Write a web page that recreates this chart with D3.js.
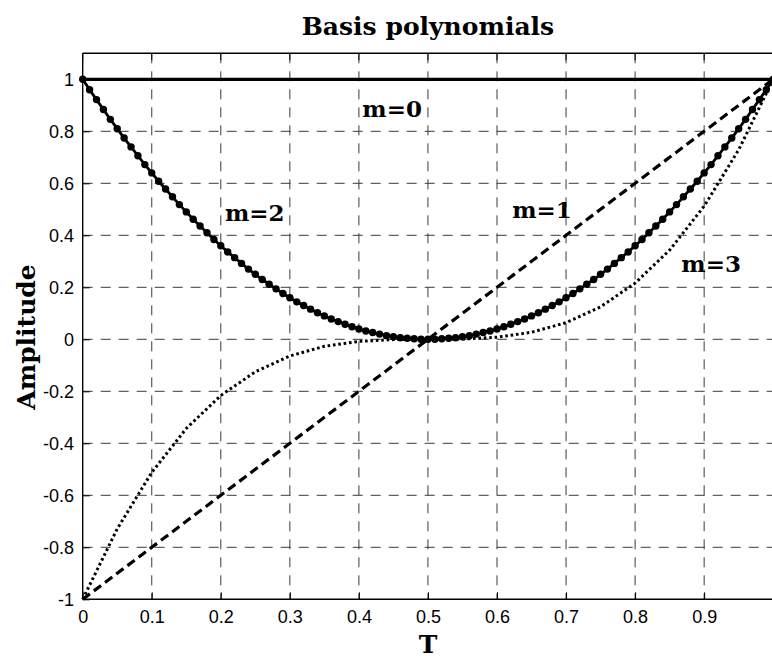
<!DOCTYPE html>
<html>
<head>
<meta charset="utf-8">
<script src="https://d3js.org/d3.v7.min.js"></script>
<style>
    body { margin: 0; background: #fff; }
    .tick-label { font-family: "Liberation Sans", Arial, sans-serif; font-size: 18px; fill: #000; }
    .serif-bold { font-family: "DejaVu Serif", serif; font-weight: bold; fill: #000; }
</style>
</head>
<body>
<div class="chart"></div>
<script>
/* Global Constants
============================================= */
const SVG_WIDTH = 772;
const SVG_HEIGHT = 656;

const textTitle = "Basis polynomials";
const textX = "T";
const textY = "Amplitude";

// tick values
const xTicks = [0, 0.1, 0.2, 0.3, 0.4, 0.5, 0.6, 0.7, 0.8, 0.9];
const yTicks = [-1, -0.8, -0.6, -0.4, -0.2, 0, 0.2, 0.4, 0.6, 0.8, 1];

// m=0 : constant
const tM0 = [0, 1];
const valM0 = [1, 1];

// m=1 and m=3 : coarse samples (step 0.05)
const tCoarse = [0, 0.05, 0.1, 0.15, 0.2, 0.25, 0.3, 0.35, 0.4, 0.45, 0.5,
                 0.55, 0.6, 0.65, 0.7, 0.75, 0.8, 0.85, 0.9, 0.95, 1];
const valM1 = [-1, -0.9, -0.8, -0.7, -0.6, -0.5, -0.4, -0.3, -0.2, -0.1, 0,
               0.1, 0.2, 0.3, 0.4, 0.5, 0.6, 0.7, 0.8, 0.9, 1];
const valM3 = [-1, -0.729, -0.512, -0.343, -0.216, -0.125, -0.064, -0.027, -0.008, -0.001, 0,
               0.001, 0.008, 0.027, 0.064, 0.125, 0.216, 0.343, 0.512, 0.729, 1];

// m=2 : dense samples with markers (step 0.01)
const tFine = d3.range(101).map(i => i / 100);
const valM2 = [1.000, 0.960, 0.922, 0.884, 0.846, 0.810, 0.774, 0.740, 0.706, 0.672,
               0.640, 0.608, 0.578, 0.548, 0.518, 0.490, 0.462, 0.436, 0.410, 0.384,
               0.360, 0.336, 0.314, 0.292, 0.270, 0.250, 0.230, 0.212, 0.194, 0.176,
               0.160, 0.144, 0.130, 0.116, 0.102, 0.090, 0.078, 0.068, 0.058, 0.048,
               0.040, 0.032, 0.026, 0.020, 0.014, 0.010, 0.006, 0.004, 0.002, 0.000,
               0.000,
               0.000, 0.002, 0.004, 0.006, 0.010, 0.014, 0.020, 0.026, 0.032, 0.040,
               0.048, 0.058, 0.068, 0.078, 0.090, 0.102, 0.116, 0.130, 0.144, 0.160,
               0.176, 0.194, 0.212, 0.230, 0.250, 0.270, 0.292, 0.314, 0.336, 0.360,
               0.384, 0.410, 0.436, 0.462, 0.490, 0.518, 0.548, 0.578, 0.608, 0.640,
               0.672, 0.706, 0.740, 0.774, 0.810, 0.846, 0.884, 0.922, 0.960, 1.000];

// curve labels (anchored in data coords)
const curveLabels = ["m=0", "m=1", "m=2", "m=3"];
const labelT = [0.405, 0.622, 0.206, 0.867];
const labelVal = [0.855, 0.465, 0.456, 0.258];

/* Layout
============================================= */
var margin = { top: 53.3, left: 82.7 };
var plotRight = 773.2;
var plotBottom = 599.3;

var svg = d3.select(".chart")
    .append("svg")
    .attr("width", SVG_WIDTH)
    .attr("height", SVG_HEIGHT)
    .style("display", "block");

svg.append("rect")
    .attr("width", SVG_WIDTH)
    .attr("height", SVG_HEIGHT)
    .attr("fill", "#fff");

var xScale = d3.scaleLinear().domain([0, 1]).range([margin.left, plotRight]);
var yScale = d3.scaleLinear().domain([-1, 1.1]).range([plotBottom, margin.top]);

//****************** grid ******************//
var grid = svg.append("g")
    .attr("stroke", "#3a3a3a")
    .attr("stroke-width", 1)
    .attr("stroke-dasharray", "10,8");

grid.selectAll("line.vgrid")
    .data(xTicks.slice(1))
    .enter()
    .append("line")
    .attr("x1", d => xScale(d))
    .attr("x2", d => xScale(d))
    .attr("y1", yScale.range()[1])
    .attr("y2", yScale.range()[0]);

grid.selectAll("line.hgrid")
    .data(yTicks.slice(1))
    .enter()
    .append("line")
    .attr("x1", xScale.range()[0])
    .attr("x2", SVG_WIDTH)
    .attr("y1", d => yScale(d))
    .attr("y2", d => yScale(d));

//****************** curves ******************//
var line = d3.line()
    .x(d => xScale(d[0]))
    .y(d => yScale(d[1]));

var plotGroup = svg.append("g")
    .attr("fill", "none")
    .attr("stroke", "#000");

plotGroup.append("path")
    .datum(d3.zip(tM0, valM0))
    .attr("d", line)
    .attr("stroke-width", 3.2);

plotGroup.append("path")
    .datum(d3.zip(tCoarse, valM1))
    .attr("d", line)
    .attr("stroke-width", 3.2)
    .attr("stroke-dasharray", "9,5");

plotGroup.append("path")
    .datum(d3.zip(tCoarse, valM3))
    .attr("d", line)
    .attr("stroke-width", 3)
    .attr("stroke-dasharray", "2.6,2.8");

plotGroup.append("path")
    .datum(d3.zip(tFine, valM2))
    .attr("d", line)
    .attr("stroke-width", 2.8);

svg.append("g")
    .selectAll("circle")
    .data(d3.zip(tFine, valM2))
    .enter()
    .append("circle")
    .attr("cx", d => xScale(d[0]))
    .attr("cy", d => yScale(d[1]))
    .attr("r", 3.7)
    .attr("fill", "#000");

//****************** axes ******************//
var fmt = d => String(+d.toFixed(1));

var bottomAxis = d3.axisBottom(xScale)
    .tickValues(xTicks)
    .tickFormat(fmt)
    .tickSizeInner(-7)
    .tickSizeOuter(0)
    .tickPadding(10.5);

var leftAxis = d3.axisLeft(yScale)
    .tickValues(yTicks)
    .tickFormat(fmt)
    .tickSizeInner(-7)
    .tickSizeOuter(0)
    .tickPadding(8.7);

var xAxis = svg.append("g")
    .attr("transform", `translate(0, ${plotBottom})`)
    .call(bottomAxis);

var yAxis = svg.append("g")
    .attr("transform", `translate(${margin.left}, 0)`)
    .call(leftAxis);

[xAxis, yAxis].forEach(function(ax) {
    ax.attr("font-family", null).attr("font-size", null);
    ax.select(".domain").remove();
    ax.selectAll("line").attr("stroke", "#000").attr("stroke-width", 1);
    ax.selectAll("text").attr("class", "tick-label");
});

// box: left, bottom, top
var box = svg.append("g").attr("stroke", "#000").attr("stroke-width", 1.4);
box.append("line")
    .attr("x1", margin.left).attr("x2", margin.left)
    .attr("y1", margin.top).attr("y2", plotBottom);
box.append("line")
    .attr("x1", margin.left).attr("x2", SVG_WIDTH)
    .attr("y1", plotBottom).attr("y2", plotBottom);
box.append("line")
    .attr("x1", margin.left).attr("x2", SVG_WIDTH)
    .attr("y1", margin.top).attr("y2", margin.top);

// top ticks
box.selectAll("line.ttick")
    .data(xTicks)
    .enter()
    .append("line")
    .attr("stroke-width", 1)
    .attr("x1", d => xScale(d)).attr("x2", d => xScale(d))
    .attr("y1", margin.top).attr("y2", margin.top + 7);

//****************** texts ******************//
svg.append("text")
    .attr("class", "serif-bold")
    .attr("x", (margin.left + plotRight) / 2)
    .attr("y", 35)
    .attr("text-anchor", "middle")
    .attr("font-size", 25)
    .text(textTitle);

svg.append("text")
    .attr("class", "serif-bold")
    .attr("x", (margin.left + plotRight) / 2)
    .attr("y", 653)
    .attr("text-anchor", "middle")
    .attr("font-size", 25)
    .text(textX);

svg.append("text")
    .attr("class", "serif-bold")
    .attr("transform", "translate(34.5, 337) rotate(-90)")
    .attr("text-anchor", "middle")
    .attr("font-size", 25)
    .text(textY);

svg.append("g")
    .selectAll("text")
    .data(curveLabels)
    .enter()
    .append("text")
    .attr("class", "serif-bold")
    .attr("font-size", 23)
    .attr("x", (d, i) => xScale(labelT[i]))
    .attr("y", (d, i) => yScale(labelVal[i]))
    .text(d => d);
</script>
</body>
</html>
